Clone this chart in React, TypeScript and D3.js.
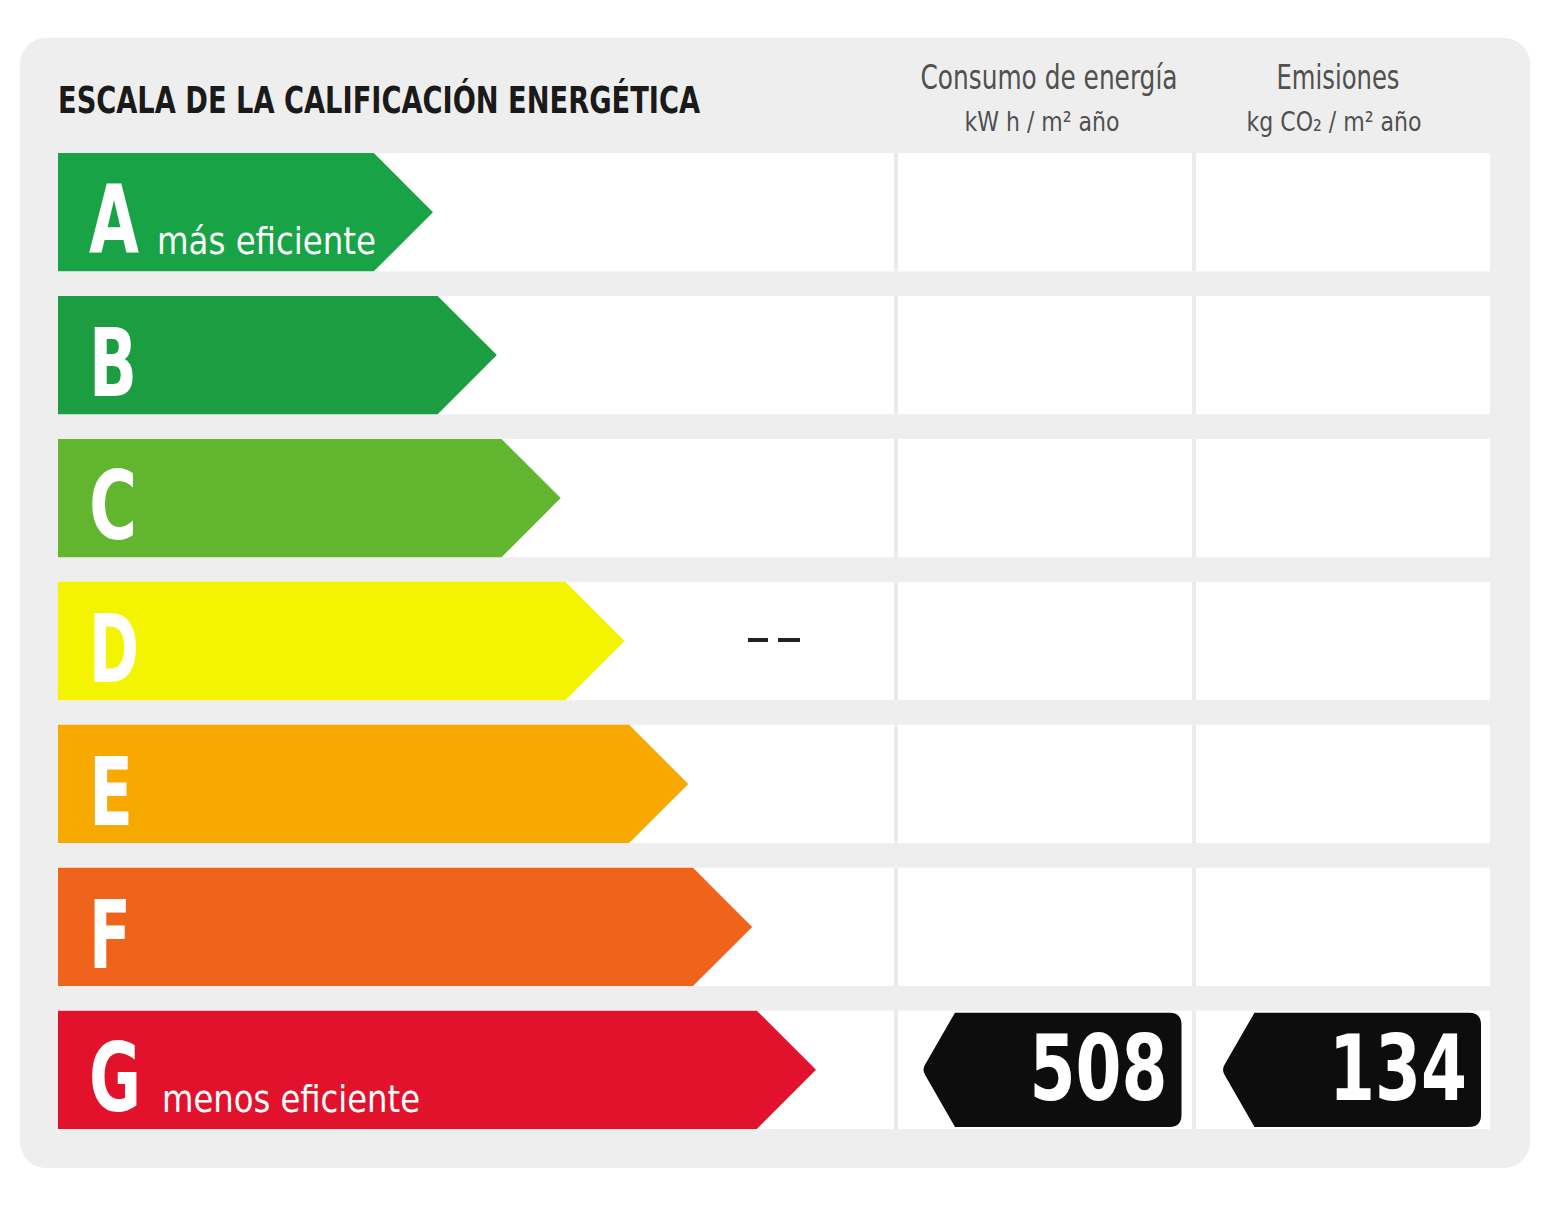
import React from "react";
import * as d3 from "d3";

const ratings = ["A", "B", "C", "D", "E", "F", "G"];
const ratingColors = ["#17a346", "#1c9d41", "#62b52f", "#f4f400", "#f8a900", "#f0631a", "#e2122d"];
const ratingSubtitles = ["más eficiente", "", "", "", "", "", "menos eficiente"];
const letterWidths = [50, 48, 48, 50, 44, 42, 52];
const columnTitles = ["Consumo de energía", "Emisiones"];
const columnUnits = ["kW h / m² año", "kg CO₂ / m² año"];
const columnValues = [508, 134];
const columnRatings = ["G", "G"];
const title = "ESCALA DE LA CALIFICACIÓN ENERGÉTICA";

const W = 1550;
const H = 1207;
const narrow = "'Liberation Sans Narrow', 'DejaVu Sans Condensed', 'Roboto Condensed', Arial, sans-serif";

export default function App() {
  const y = d3.scaleBand<string>().domain(ratings).range([153, 1129]).paddingInner(0.172).paddingOuter(0);
  const tipX = d3.scaleLinear().domain([0, ratings.length - 1]).range([433, 816]);
  const colX = d3.scaleBand<number>().domain([0, 1]).range([897, 1493]).paddingInner(0.01);
  const bh = y.bandwidth();
  const arrowLeft = 58;

  const arrowPath = (i: number) => {
    const t = y(ratings[i])!;
    const tip = tipX(i);
    const depth = bh / 2;
    const p = d3.path();
    p.moveTo(arrowLeft, t);
    p.lineTo(tip - depth, t);
    p.lineTo(tip, t + bh / 2);
    p.lineTo(tip - depth, t + bh);
    p.lineTo(arrowLeft, t + bh);
    p.closePath();
    return p.toString();
  };

  const tagPath = (x0: number, x1: number, t: number, h: number) => {
    const r = 12;
    const d = 33;
    const p = d3.path();
    p.moveTo(x0 + d, t);
    p.lineTo(x1 - r, t);
    p.quadraticCurveTo(x1, t, x1, t + r);
    p.lineTo(x1, t + h - r);
    p.quadraticCurveTo(x1, t + h, x1 - r, t + h);
    p.lineTo(x0 + d, t + h);
    p.lineTo(x0 + 3, t + h / 2 + 5);
    p.quadraticCurveTo(x0, t + h / 2, x0 + 3, t + h / 2 - 5);
    p.closePath();
    return p.toString();
  };

  return (
    <svg width={W} height={H} style={{ position: "absolute", left: 0, top: 0, background: "#ffffff" }}>
      <rect x={20} y={38} width={1510} height={1130} rx={26} fill="#efeeee" />
      {ratings.map((r, i) => (
        <g key={"row" + r}>
          <rect x={arrowLeft} y={y(r)!} width={1490 - arrowLeft} height={bh} fill="#ffffff" />
          <rect x={894} y={y(r)!} width={4} height={bh} fill="#ebebeb" />
          <rect x={1192} y={y(r)!} width={4} height={bh} fill="#ebebeb" />
        </g>
      ))}
      <text x={58} y={113} fontFamily={narrow} fontWeight="bold" fontSize={38} fill="#1a1a1a"
        textLength={642} lengthAdjust="spacingAndGlyphs">{title}</text>
      {columnTitles.map((c, i) => {
        const cx = i === 0 ? 1049 : 1338;
        const ux = i === 0 ? 1042 : 1334;
        return (
          <g key={"col" + i}>
            <text x={cx} y={89} textAnchor="middle" fontFamily={narrow} fontSize={34} fill="#505050"
              textLength={i === 0 ? 257 : 123} lengthAdjust="spacingAndGlyphs">{c}</text>
            <text x={ux} y={131} textAnchor="middle" fontFamily={narrow} fontSize={27} fill="#505050"
              textLength={i === 0 ? 155 : 175} lengthAdjust="spacingAndGlyphs">{columnUnits[i]}</text>
          </g>
        );
      })}
      {ratings.map((r, i) => (
        <g key={"arrow" + r}>
          <path d={arrowPath(i)} fill={ratingColors[i]} />
          <text x={arrowLeft + 31} y={y(r)! + 100} fontFamily={narrow} fontWeight="bold" fontSize={94} fill="#ffffff"
            textLength={letterWidths[i]} lengthAdjust="spacingAndGlyphs">{r}</text>
          {ratingSubtitles[i] && (
            <text x={i === 0 ? 157 : 162} y={y(r)! + 101} fontFamily={narrow} fontSize={38} fill="#ffffff"
              textLength={i === 0 ? 219 : 258} lengthAdjust="spacingAndGlyphs">{ratingSubtitles[i]}</text>
          )}
        </g>
      ))}
      <rect x={748} y={638} width={20} height={4} fill="#222" />
      <rect x={778} y={638} width={22} height={4} fill="#222" />
      {columnValues.map((v, i) => {
        const ri = ratings.indexOf(columnRatings[i]);
        const t = y(ratings[ri])! + 2;
        const x0 = colX(i)! + 25;
        const x1 = colX(i)! + colX.bandwidth() - 12;
        return (
          <g key={"tag" + i}>
            <path d={tagPath(x0, x1, t, bh - 4)} fill="#0d0d0d" />
            <text x={x1 - 14} y={t + 87} textAnchor="end" fontFamily={narrow} fontWeight="bold" fontSize={90} fill="#ffffff"
              textLength={138} lengthAdjust="spacingAndGlyphs">{v}</text>
          </g>
        );
      })}
    </svg>
  );
}
